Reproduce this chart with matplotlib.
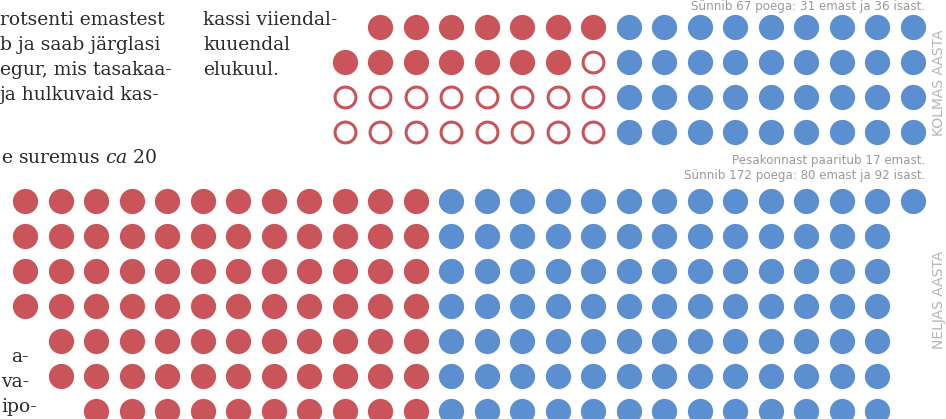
import numpy as np
import matplotlib.pyplot as plt

plt.rcParams["mathtext.fontset"] = "dejavuserif"

W, H = 946, 419

# KOLMAS AASTA: 67 kittens, 31 female (14 survive), 36 male
top_female_rows = [7, 8, 8, 8]
top_male_rows = [9, 9, 9, 9]
top_female_filled = 14
top_caption = ["Sünnib 67 poega: 31 emast ja 36 isast."]

# NELJAS AASTA: 17 females mate, 172 kittens, 80 female, 92 male
bottom_female_rows = [12, 12, 12, 12, 11, 11, 10]
bottom_male_rows = [14, 13, 13, 13, 13, 13, 13]
bottom_caption = ["Pesakonnast paaritub 17 emast.",
                  "Sünnib 172 poega: 80 emast ja 92 isast."]

RED = "#c9555b"
BLUE = "#5b8fcf"
GREY = "#9a9a9a"


def px(x, y):
    return x / W, 1 - y / H


def draw_block(ax, female_rows, male_rows, first_row, split_col, n_filled=None):
    fx, fy, mx, my = [], [], [], []
    for i, n in enumerate(female_rows):
        for c in range(split_col - n, split_col):
            fx.append(c)
            fy.append(first_row + i)
    for i, n in enumerate(male_rows):
        for c in range(split_col, split_col + n):
            mx.append(c)
            my.append(first_row + i)
    fx, fy = np.array(fx), np.array(fy)
    if n_filled is None:
        n_filled = len(fx)
    ax.scatter(fx[:n_filled], fy[:n_filled], s=330, color=RED, lw=0)
    ax.scatter(fx[n_filled:], fy[n_filled:], s=225, facecolor="white",
               edgecolor=RED, lw=2.2)
    ax.scatter(mx, my, s=330, color=BLUE, lw=0)


fig = plt.figure(figsize=(W / 100, H / 100), dpi=100)
ax = fig.add_axes([0, 0, 1, 1])
# grid: column c at pixel 25 + 35.5c, row r at pixel 27 + 34.9r
ax.set_xlim(-25 / 35.5, (W - 25) / 35.5)
ax.set_ylim((H - 27) / 34.9, -27 / 34.9)
ax.axis("off")

draw_block(ax, top_female_rows, top_male_rows, 0, 17, top_female_filled)
draw_block(ax, bottom_female_rows, bottom_male_rows, 5, 12)

# captions
for i, line in enumerate(top_caption):
    fig.text(*px(925, 10 + 15 * i), line, ha="right", va="baseline",
             fontsize=8.6, color=GREY, family="DejaVu Sans")
for i, line in enumerate(bottom_caption):
    fig.text(*px(925, 164 + 15 * i), line, ha="right", va="baseline",
             fontsize=8.6, color=GREY, family="DejaVu Sans")

fig.text(*px(932, 83), "KOLMAS AASTA", rotation=90, ha="left", va="center",
         fontsize=10, color="#b5b5b5", family="DejaVu Sans")
fig.text(*px(932, 300), "NELJAS AASTA", rotation=90, ha="left", va="center",
         fontsize=10, color="#b5b5b5", family="DejaVu Sans")

# body text around the graphic
body = dict(fontsize=13.5, color="#2b2b2b", family="DejaVu Serif", va="baseline")
left_lines = [(25, "rotsenti emastest"), (50, "b ja saab järglasi"),
              (75, "egur, mis tasakaa-"), (100, "ja hulkuvaid kas-")]
for y, s in left_lines:
    fig.text(*px(0, y), s, ha="left", **body)
fig.text(*px(1, 163), "e suremus $\\it{ca}$ 20", ha="left", **body)

for y, s in [(25, "kassi viiendal-"), (50, "kuuendal"), (75, "elukuul.")]:
    fig.text(*px(203, y), s, ha="left", **body)

for y, s, x in [(362, "a-", 29), (387, "va-", 29), (412, "ipo-", 37)]:
    fig.text(*px(x, y), s, ha="right", **body)

fig.savefig("out.png", dpi=100)
